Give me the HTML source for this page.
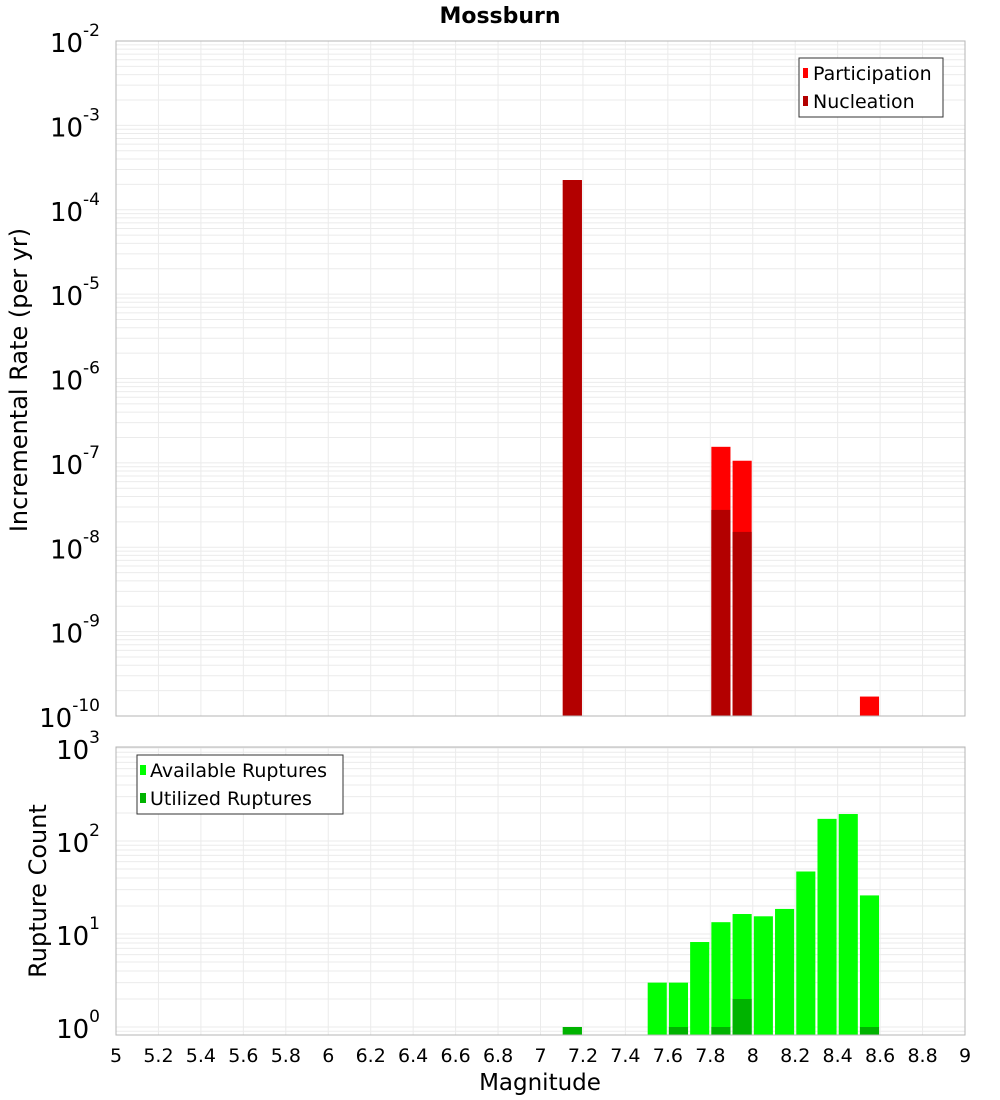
<!DOCTYPE html>
<html><head><meta charset="utf-8">
<style>
body{margin:0;background:#fff;}
svg{display:block;font-family:"DejaVu Sans","Liberation Sans",sans-serif;}
</style></head>
<body>
<svg id="chart" width="1000" height="1100" viewBox="0 0 1000 1100" xmlns="http://www.w3.org/2000/svg">
<text x="500" y="23" text-anchor="middle" font-size="22" font-weight="bold">Mossburn</text>
<g id="top"></g>
<g id="bot"></g>
</svg>
<script>
const mags = [7.15, 7.85, 7.95, 8.55];
const participation = [2.25e-4, 1.55e-7, 1.06e-7, 1.7e-10];
const nucleation = [2.25e-4, 2.77e-8, 1.52e-8, 0];
const countMags = [7.15, 7.55, 7.65, 7.75, 7.85, 7.95, 8.05, 8.15, 8.25, 8.35, 8.45, 8.55];
const available = [1, 3, 3, 8.2, 13.4, 16.4, 15.5, 18.6, 47, 173, 195, 26];
const utilized = [1, 0, 1, 0, 1, 2, 0, 0, 0, 0, 0, 1];
const xTicks = ['5','5.2','5.4','5.6','5.8','6','6.2','6.4','6.6','6.8','7','7.2','7.4','7.6','7.8','8','8.2','8.4','8.6','8.8','9'];

const NS='http://www.w3.org/2000/svg';
function mk(parent,tag,attrs,text){const e=document.createElementNS(NS,tag);for(const k in attrs)e.setAttribute(k,attrs[k]);if(text!==undefined)e.textContent=text;parent.appendChild(e);return e;}
const L=116,R=965;
const xs=v=>L+(v-5)/(9-5)*(R-L);

function panel(g,top,bot,lmin,lmax,decPx,zeroLog){
  const ys=v=>zeroLog-(Math.log10(v))*decPx;
  const bg=mk(g,'rect',{x:L,y:top,width:R-L,height:bot-top,fill:'#fff'});
  
  for(let d=lmin-1;d<=lmax;d++){for(let m=1;m<10;m++){const v=m*Math.pow(10,d);const y=ys(v);if(y<top||y>bot)continue;
    const ln=mk(g,'line',{x1:L,x2:R,y1:y,y2:y,stroke:'#ebebeb','stroke-width':1});
    }}
  for(let i=0;i<xTicks.length;i++){const x=xs(+xTicks[i]);
    const ln=mk(g,'line',{x1:x,x2:x,y1:top,y2:bot,stroke:'#ebebeb','stroke-width':1});
    }
  for(let d=lmin;d<=lmax;d++){const y=ys(Math.pow(10,d));
    const t=mk(g,'text',{x:100,y:y+11,'text-anchor':'end','font-size':26});
    
    t.textContent='10';mk(t,'tspan',{dy:-16,'font-size':17},String(d));}
  return ys;
}

const gt=document.getElementById('top');
const yT=panel(gt,41,716,-10,-2,84.375,41-2*84.375);
for(let i=0;i<mags.length;i++){
  const x0=xs(mags[i]-0.045),x1=xs(mags[i]+0.045);
  if(participation[i]>0){const y=Math.max(41,yT(participation[i]));
    const b=mk(gt,'rect',{x:x0,y:y,width:x1-x0,height:716-y,fill:'#ff0000'});
    }
  if(nucleation[i]>0){const y=Math.max(41,yT(nucleation[i]));
    const b=mk(gt,'rect',{x:x0,y:y,width:x1-x0,height:716-y,fill:'#b30000'});
    }
}
let fr=mk(gt,'rect',{x:L,y:41,width:R-L,height:675,fill:'none',stroke:'#b5b5b5'});

let lg=mk(gt,'g',{});
mk(lg,'rect',{x:799,y:58,width:144,height:59,fill:'#fff',stroke:'#333'});
mk(lg,'rect',{x:803,y:68,width:5,height:10,fill:'#ff0000'});
let t1=mk(lg,'text',{x:813,y:80,'font-size':19},'Participation');
mk(lg,'rect',{x:803,y:96,width:5,height:10,fill:'#b30000'});
let t2=mk(lg,'text',{x:813,y:108,'font-size':19},'Nucleation');
let yt=mk(gt,'text',{x:0,y:0,'font-size':24,'text-anchor':'middle',transform:'translate(27,380) rotate(-90)'},'Incremental Rate (per yr)');


const gb=document.getElementById('bot');
const yB=panel(gb,747,1035,0,3,93,1027);
for(let i=0;i<countMags.length;i++){
  const x0=xs(countMags[i]-0.045),x1=xs(countMags[i]+0.045);
  if(available[i]>0){const y=yB(available[i]);
    const b=mk(gb,'rect',{x:x0,y:y,width:x1-x0,height:1035-y,fill:'#00ff00'});
    }
  if(utilized[i]>0){const y=yB(utilized[i]);
    const b=mk(gb,'rect',{x:x0,y:y,width:x1-x0,height:1035-y,fill:'#00b300'});
    }
}
fr=mk(gb,'rect',{x:L,y:747,width:R-L,height:288,fill:'none',stroke:'#b5b5b5'});

lg=mk(gb,'g',{});
mk(lg,'rect',{x:137,y:755,width:206,height:59,fill:'#fff',stroke:'#333'});
mk(lg,'rect',{x:140,y:765,width:6,height:10,fill:'#00ff00'});
t1=mk(lg,'text',{x:150,y:777,'font-size':19},'Available Ruptures');
mk(lg,'rect',{x:140,y:793,width:6,height:10,fill:'#00b300'});
t2=mk(lg,'text',{x:150,y:805,'font-size':19},'Utilized Ruptures');
yt=mk(gb,'text',{x:0,y:0,'font-size':24,'text-anchor':'middle',transform:'translate(46,891) rotate(-90)'},'Rupture Count');


for(let i=0;i<xTicks.length;i++){
  const t=mk(gb,'text',{x:xs(+xTicks[i]),y:1062,'text-anchor':'middle','font-size':19},xTicks[i]);
  
}
const xt=mk(gb,'text',{x:540,y:1090,'text-anchor':'middle','font-size':23},'Magnitude');

</script>
</body></html>
